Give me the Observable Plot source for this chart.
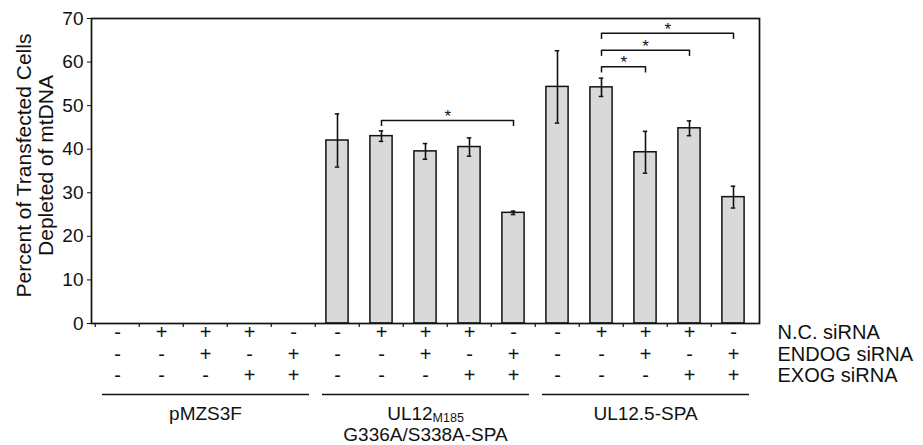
<!DOCTYPE html>
<html><head><meta charset="utf-8">
<script src="https://cdn.jsdelivr.net/npm/d3@7"></script>
<script src="https://cdn.jsdelivr.net/npm/@observablehq/plot@0.6"></script>
<style>
body{margin:0;background:#fff;}
svg{font-family:"Liberation Sans",Arial,sans-serif;}
</style>
</head><body><div id="chart"></div>
<script>
// ---- data ----
const categories = ["p1","p2","p3","p4","p5","m1","m2","m3","m4","m5","s1","s2","s3","s4","s5"];
const values = [0,0,0,0,0, 42.0,43.0,39.5,40.5,25.4, 54.3,54.2,39.3,44.8,29.0];
const errors = [0,0,0,0,0, 6.1,1.2,1.8,2.1,0.4, 8.3,2.1,4.8,1.7,2.5];
const ncSiRNA    = ["-","+","+","+","-", "-","+","+","+","-", "-","+","+","+","-"];
const endogSiRNA = ["-","-","+","-","+", "-","-","+","-","+", "-","-","+","-","+"];
const exogSiRNA  = ["-","-","-","+","+", "-","-","-","+","+", "-","-","-","+","+"];
const rowLabels = ["N.C. siRNA","ENDOG siRNA","EXOG siRNA"];
const groupLabels = ["pMZS3F","UL12M185\nG336A/S338A-SPA","UL12.5-SPA"];
const groupFirst = ["p1","m1","s1"];
const groupLast  = ["p5","m5","s5"];
const groupCenter = ["p3","m3","s3"];
const bracketFrom = ["m2","s2","s2","s2"];
const bracketTo   = ["m5","s3","s4","s5"];
const bracketHeight = [46.6,58.9,62.7,66.6];
const bracketLabel = ["*","*","*","*"];
const yTicks = [0,10,20,30,40,50,60,70];
const yLabel = "Percent of Transfected Cells\nDepleted of mtDNA";

// ---- layout / style ----
const W = 923, H = 445, ML = 91, MR = 164, MT = 18, MB = 122;
const bw = (W - ML - MR) / categories.length;
const ink = "#111";
const barFill = "#d9d9d9";
const rowDy = [15, 37, 58.5];
const bracketDrop = 1.4;

const bars = categories.map((id, i) => ({id, value: values[i], err: errors[i]}));
const shown = bars.filter(d => d.value > 0);
const groups = groupLabels.map((label, i) => ({label, first: groupFirst[i], last: groupLast[i], center: groupCenter[i]}));
const brackets = bracketFrom.map((from, i) => {
  const a = categories.indexOf(from), b = categories.indexOf(bracketTo[i]);
  const mid = (a + b) / 2;
  return {from, to: bracketTo[i], h: bracketHeight[i], label: bracketLabel[i],
          anchor: categories[Math.floor(mid)], half: mid % 1 !== 0};
});

const marks = [
  Plot.barY(shown, {x: "id", y: "value", fill: barFill, stroke: ink, strokeWidth: 1.5,
    insetLeft: 10.9, insetRight: 10.9}),
  Plot.ruleX(shown, {x: "id", y1: d => d.value - d.err, y2: d => d.value + d.err, stroke: ink, strokeWidth: 1.6}),
  Plot.tickY(shown, {x: "id", y: d => d.value + d.err, stroke: ink, strokeWidth: 1.5, insetLeft: (bw-5)/2, insetRight: (bw-5)/2}),
  Plot.tickY(shown, {x: "id", y: d => d.value - d.err, stroke: ink, strokeWidth: 1.5, insetLeft: (bw-5)/2, insetRight: (bw-5)/2}),
  // significance brackets
  Plot.link(brackets, {x1: "from", x2: "to", y1: "h", y2: "h", stroke: ink, strokeWidth: 1.5}),
  Plot.ruleX(brackets, {x: "from", y1: "h", y2: d => d.h - bracketDrop, stroke: ink, strokeWidth: 1.5}),
  Plot.ruleX(brackets, {x: "to", y1: "h", y2: d => d.h - bracketDrop, stroke: ink, strokeWidth: 1.5}),
  Plot.text(brackets.filter(d => !d.half), {x: "anchor", y: "h", text: "label", dy: -4, fontSize: 17, fill: ink}),
  Plot.text(brackets.filter(d => d.half), {x: "anchor", y: "h", text: "label", dy: -4, dx: bw/2, fontSize: 17, fill: ink}),
  // x boundary ticks
  Plot.ruleX(categories, {x: d => d, y1: 0, y2: 0, dx: -bw/2, insetBottom: -4, stroke: ink, strokeWidth: 1.2}),
  Plot.axisY({ticks: yTicks, tickSize: 4, tickPadding: 4, fontSize: 19, label: null, stroke: ink, color: ink}),
  Plot.frame({stroke: ink, strokeWidth: 1.7}),
  // y label
  Plot.text([yLabel], {frameAnchor: "left", textAnchor: "middle", lineAnchor: "middle", rotate: -90,
    dx: -56.5, dy: -5.5, fontSize: 21, lineHeight: 1.05, fill: ink}),
  // group underlines and labels
  Plot.ruleY(groups, {x1: "first", x2: "last", y: 0, dy: 71, insetLeft: 7, insetRight: 6, stroke: ink, strokeWidth: 1.5}),
  Plot.text(groups, {x: "center", text: "label", frameAnchor: "bottom", dy: 82, lineAnchor: "top", lineHeight: 1.08, fontSize: 19, fill: ink})
];
[ncSiRNA, endogSiRNA, exogSiRNA].forEach((row, r) => {
  marks.push(Plot.text(categories, {x: d => d, text: (d, i) => row[i], frameAnchor: "bottom", dy: rowDy[r], fontSize: 20, fill: ink}));
  marks.push(Plot.text([rowLabels[r]], {frameAnchor: "bottom-right", dx: 18, dy: rowDy[r], textAnchor: "start", fontSize: 20, fill: ink}));
});

const chart = Plot.plot({
  width: W, height: H, marginLeft: ML, marginRight: MR, marginTop: MT, marginBottom: MB,
  style: {fontFamily: '"Liberation Sans", Arial, sans-serif', background: "#fff"},
  x: {type: "band", domain: categories, padding: 0, axis: null},
  y: {domain: [0, 70], axis: null},
  marks
});

// subscript for "UL12M185"
chart.querySelectorAll("tspan, text").forEach(el => {
  if (el.childElementCount === 0 && el.textContent === "UL12M185") {
    el.textContent = "UL12";
    const sub = document.createElementNS("http://www.w3.org/2000/svg", "tspan");
    sub.textContent = "M185";
    sub.setAttribute("font-size", "12.5");
    sub.setAttribute("baseline-shift", "-2");
    el.appendChild(sub);
  }
});
document.getElementById("chart").appendChild(chart);
</script>
</body></html>
